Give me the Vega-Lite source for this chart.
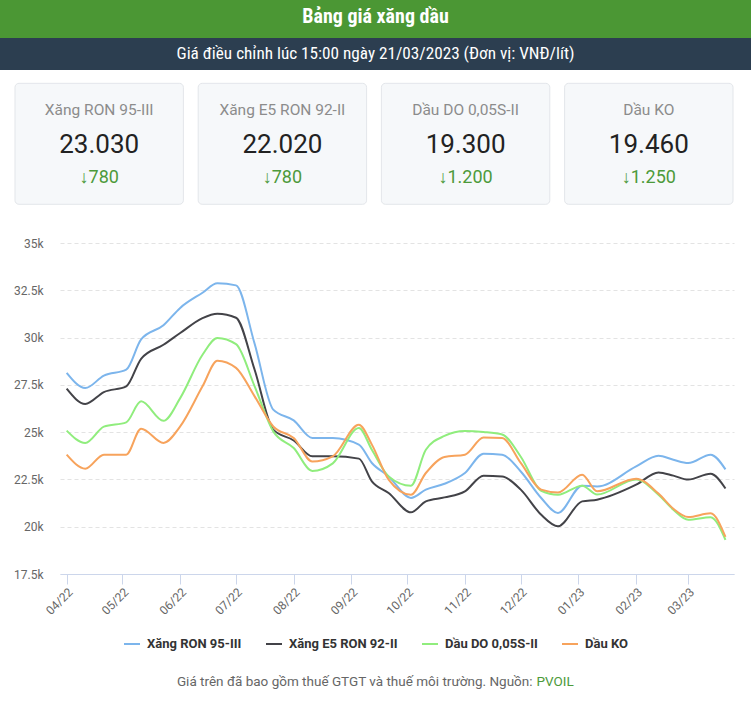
{
  "$schema": "https://vega.github.io/schema/vega-lite/v6.json",
  "padding": 0,
  "background": "white",
  "spacing": 0,
  "bounds": "flush",
  "config": {"view": {"stroke": null}, "font": "Roboto"},
  "vconcat": [
    {
      "width": 751, "height": 38,
      "view": {"fill": "#4b9734", "stroke": null},
      "data": {"values": [{"t": "Bảng giá xăng dầu"}]},
      "mark": {"type": "text", "font": "Roboto Condensed, Liberation Sans Narrow, DejaVu Sans Condensed, Roboto", "fontSize": 20, "fontWeight": "bold", "color": "#ffffff", "baseline": "middle", "dy": -2},
      "encoding": {"text": {"field": "t"}}
    },
    {
      "width": 751, "height": 32,
      "view": {"fill": "#2c3e50", "stroke": null},
      "data": {"values": [{"t": "Giá điều chỉnh lúc 15:00 ngày 21/03/2023 (Đơn vị: VNĐ/lít)"}]},
      "mark": {"type": "text", "font": "Roboto Condensed, Liberation Sans Narrow, DejaVu Sans Condensed, Roboto", "fontSize": 17.2, "color": "#ffffff", "baseline": "middle"},
      "encoding": {"text": {"field": "t"}}
    },
    {
      "width": 748, "height": 173,
      "data": {"values": [
        {"name": "Xăng RON 95-III", "price": "23.030", "change": "↓780"},
        {"name": "Xăng E5 RON 92-II", "price": "22.020", "change": "↓780"},
        {"name": "Dầu DO 0,05S-II", "price": "19.300", "change": "↓1.200"},
        {"name": "Dầu KO", "price": "19.460", "change": "↓1.250"}
      ]},
      "encoding": {
        "x": {"field": "name", "type": "nominal", "sort": null, "axis": null, "scale": {"paddingInner": 0.0807, "paddingOuter": 0.0818}},
        "y": {"datum": "card", "type": "nominal", "axis": null, "scale": {"paddingInner": 0, "paddingOuter": 0.2149, "align": 0.256}}
      },
      "layer": [
        {"mark": {"type": "rect", "fill": "#f6f8fa", "stroke": "#e3e6ea", "strokeWidth": 1, "cornerRadius": 4}},
        {"mark": {"type": "text", "baseline": "alphabetic", "dy": -29, "fontSize": 15.5, "color": "#8c8c8c"}, "encoding": {"text": {"field": "name"}}},
        {"mark": {"type": "text", "baseline": "alphabetic", "dy": 9, "fontSize": 26, "color": "#222222"}, "encoding": {"text": {"field": "price"}}},
        {"mark": {"type": "text", "baseline": "alphabetic", "dy": 39, "fontSize": 18, "color": "#4d9a3a"}, "encoding": {"text": {"field": "change"}}}
      ]
    },
    {
      "width": 751, "height": 331,
      "data": {"values": [
        {"date": "2022-04-01", "Xăng RON 95-III": 28130, "Xăng E5 RON 92-II": 27300, "Dầu DO 0,05S-II": 25080, "Dầu KO": 23810},
        {"date": "2022-04-11", "Xăng RON 95-III": 27330, "Xăng E5 RON 92-II": 26490, "Dầu DO 0,05S-II": 24430, "Dầu KO": 23070},
        {"date": "2022-04-21", "Xăng RON 95-III": 27990, "Xăng E5 RON 92-II": 27120, "Dầu DO 0,05S-II": 25290, "Dầu KO": 23810},
        {"date": "2022-05-03", "Xăng RON 95-III": 28300, "Xăng E5 RON 92-II": 27420, "Dầu DO 0,05S-II": 25520, "Dầu KO": 23810},
        {"date": "2022-05-11", "Xăng RON 95-III": 29900, "Xăng E5 RON 92-II": 28880, "Dầu DO 0,05S-II": 26630, "Dầu KO": 25180},
        {"date": "2022-05-23", "Xăng RON 95-III": 30650, "Xăng E5 RON 92-II": 29620, "Dầu DO 0,05S-II": 25600, "Dầu KO": 24430},
        {"date": "2022-06-01", "Xăng RON 95-III": 31570, "Xăng E5 RON 92-II": 30240, "Dầu DO 0,05S-II": 26800, "Dầu KO": 25300},
        {"date": "2022-06-13", "Xăng RON 95-III": 32370, "Xăng E5 RON 92-II": 31030, "Dầu DO 0,05S-II": 29090, "Dầu KO": 27420},
        {"date": "2022-06-21", "Xăng RON 95-III": 32870, "Xăng E5 RON 92-II": 31260, "Dầu DO 0,05S-II": 29980, "Dầu KO": 28780},
        {"date": "2022-07-01", "Xăng RON 95-III": 32760, "Xăng E5 RON 92-II": 31050, "Dầu DO 0,05S-II": 29650, "Dầu KO": 28400},
        {"date": "2022-07-11", "Xăng RON 95-III": 29670, "Xăng E5 RON 92-II": 28300, "Dầu DO 0,05S-II": 27420, "Dầu KO": 26890},
        {"date": "2022-07-21", "Xăng RON 95-III": 26190, "Xăng E5 RON 92-II": 25130, "Dầu DO 0,05S-II": 25040, "Dầu KO": 25300},
        {"date": "2022-08-01", "Xăng RON 95-III": 25620, "Xăng E5 RON 92-II": 24560, "Dầu DO 0,05S-II": 24160, "Dầu KO": 24690},
        {"date": "2022-08-11", "Xăng RON 95-III": 24690, "Xăng E5 RON 92-II": 23720, "Dầu DO 0,05S-II": 22950, "Dầu KO": 23450},
        {"date": "2022-08-22", "Xăng RON 95-III": 24690, "Xăng E5 RON 92-II": 23720, "Dầu DO 0,05S-II": 23350, "Dầu KO": 23720},
        {"date": "2022-09-05", "Xăng RON 95-III": 24340, "Xăng E5 RON 92-II": 23600, "Dầu DO 0,05S-II": 25220, "Dầu KO": 25390},
        {"date": "2022-09-12", "Xăng RON 95-III": 23370, "Xăng E5 RON 92-II": 22400, "Dầu DO 0,05S-II": 24070, "Dầu KO": 24340},
        {"date": "2022-09-21", "Xăng RON 95-III": 22660, "Xăng E5 RON 92-II": 21780, "Dầu DO 0,05S-II": 22660, "Dầu KO": 22490},
        {"date": "2022-10-03", "Xăng RON 95-III": 21520, "Xăng E5 RON 92-II": 20760, "Dầu DO 0,05S-II": 22170, "Dầu KO": 21690},
        {"date": "2022-10-11", "Xăng RON 95-III": 21960, "Xăng E5 RON 92-II": 21340, "Dầu DO 0,05S-II": 24070, "Dầu KO": 22840},
        {"date": "2022-10-21", "Xăng RON 95-III": 22270, "Xăng E5 RON 92-II": 21550, "Dầu DO 0,05S-II": 24800, "Dầu KO": 23690},
        {"date": "2022-11-01", "Xăng RON 95-III": 22840, "Xăng E5 RON 92-II": 21870, "Dầu DO 0,05S-II": 25060, "Dầu KO": 23810},
        {"date": "2022-11-11", "Xăng RON 95-III": 23860, "Xăng E5 RON 92-II": 22700, "Dầu DO 0,05S-II": 25010, "Dầu KO": 24720},
        {"date": "2022-11-21", "Xăng RON 95-III": 23810, "Xăng E5 RON 92-II": 22660, "Dầu DO 0,05S-II": 24880, "Dầu KO": 24690},
        {"date": "2022-12-01", "Xăng RON 95-III": 22920, "Xăng E5 RON 92-II": 21960, "Dầu DO 0,05S-II": 23700, "Dầu KO": 23370},
        {"date": "2022-12-12", "Xăng RON 95-III": 21520, "Xăng E5 RON 92-II": 20630, "Dầu DO 0,05S-II": 21900, "Dầu KO": 21960},
        {"date": "2022-12-21", "Xăng RON 95-III": 20730, "Xăng E5 RON 92-II": 20020, "Dầu DO 0,05S-II": 21690, "Dầu KO": 21810},
        {"date": "2023-01-03", "Xăng RON 95-III": 22170, "Xăng E5 RON 92-II": 21340, "Dầu DO 0,05S-II": 22170, "Dầu KO": 22750},
        {"date": "2023-01-11", "Xăng RON 95-III": 22130, "Xăng E5 RON 92-II": 21430, "Dầu DO 0,05S-II": 21700, "Dầu KO": 21870},
        {"date": "2023-02-01", "Xăng RON 95-III": 23190, "Xăng E5 RON 92-II": 22220, "Dầu DO 0,05S-II": 22500, "Dầu KO": 22540},
        {"date": "2023-02-13", "Xăng RON 95-III": 23750, "Xăng E5 RON 92-II": 22870, "Dầu DO 0,05S-II": 21690, "Dầu KO": 21750},
        {"date": "2023-02-21", "Xăng RON 95-III": 23540, "Xăng E5 RON 92-II": 22700, "Dầu DO 0,05S-II": 20900, "Dầu KO": 20950},
        {"date": "2023-03-01", "Xăng RON 95-III": 23370, "Xăng E5 RON 92-II": 22490, "Dầu DO 0,05S-II": 20370, "Dầu KO": 20510},
        {"date": "2023-03-13", "Xăng RON 95-III": 23810, "Xăng E5 RON 92-II": 22800, "Dầu DO 0,05S-II": 20500, "Dầu KO": 20710},
        {"date": "2023-03-21", "Xăng RON 95-III": 23030, "Xăng E5 RON 92-II": 22020, "Dầu DO 0,05S-II": 19300, "Dầu KO": 19460}
      ]},
      "transform": [{"fold": ["Xăng RON 95-III", "Xăng E5 RON 92-II", "Dầu DO 0,05S-II", "Dầu KO"], "as": ["fuel", "price"]}],
      "mark": {"type": "line", "interpolate": "monotone", "strokeWidth": 2},
      "encoding": {
        "x": {
          "field": "date", "type": "temporal",
          "scale": {"type": "utc", "domain": [{"year": 2022, "month": 3, "date": 28, "hours": 10, "utc": true}, {"year": 2023, "month": 3, "date": 25, "hours": 14, "utc": true}], "range": [60, 734]},
          "axis": {"title": null, "tickCount": {"interval": "month", "step": 1}, "labelExpr": "utcFormat(datum.value, '%m/%y')", "labelAngle": -45, "labelColor": "#666666", "labelFontSize": 12, "tickColor": "#ccd6eb", "tickSize": 10, "domainColor": "#ccd6eb", "grid": false, "labelPadding": 2, "labelOverlap": false, "labelFlush": false}
        },
        "y": {
          "field": "price", "type": "quantitative",
          "scale": {"domain": [17500, 35000], "nice": false, "zero": false},
          "axis": {"title": null, "values": [17500, 20000, 22500, 25000, 27500, 30000, 32500, 35000], "labelExpr": "(datum.value/1000) + 'k'", "offset": -60, "domain": false, "ticks": false, "labelPadding": 17, "labelColor": "#666666", "labelFontSize": 12, "gridColor": "#e3e3e3", "gridDash": [4, 3], "gridWidth": 1}
        },
        "color": {
          "field": "fuel", "type": "nominal",
          "scale": {"domain": ["Xăng RON 95-III", "Xăng E5 RON 92-II", "Dầu DO 0,05S-II", "Dầu KO"], "range": ["#7cb5ec", "#434348", "#90ed7d", "#f7a35c"]},
          "legend": {"title": null, "orient": "none", "legendX": 123, "legendY": 635, "direction": "horizontal", "symbolType": "stroke", "symbolSize": 256, "symbolStrokeWidth": 2, "labelFontSize": 13, "labelFontWeight": "bold", "labelColor": "#333333", "labelOffset": 6, "columnPadding": 20, "labelLimit": 300}
        }
      }
    },
    {
      "width": 751, "height": 139,
      "layer": [
        {"data": {"values": [{"t": "Giá trên đã bao gồm thuế GTGT và thuế môi trường. Nguồn:"}]}, "mark": {"type": "text", "align": "right", "dx": 157, "dy": 38, "fontSize": 13.5, "color": "#666666"}, "encoding": {"text": {"field": "t"}}},
        {"data": {"values": [{"t": "PVOIL"}]}, "mark": {"type": "text", "align": "left", "dx": 161, "dy": 38, "fontSize": 13.5, "color": "#4d9a3a"}, "encoding": {"text": {"field": "t"}}}
      ]
    }
  ]
}
